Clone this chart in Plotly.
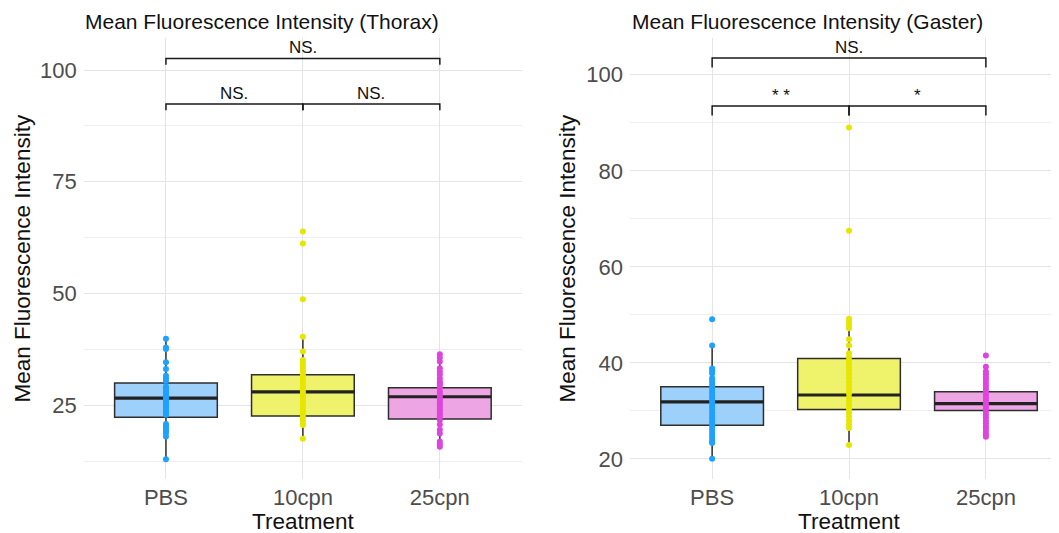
import plotly.graph_objects as go

# ---------------- data ----------------
treatments = ["PBS", "10cpn", "25cpn"]

thorax_pbs = [39.9, 37.9, 37.6, 34.6, 33.1, 31.6, 31.0, 30.4, 29.2, 28.8, 28.3, 27.9, 27.5, 27.0,
              26.6, 26.2, 25.8, 25.4, 24.9, 24.5, 24.0, 23.6, 23.2, 22.9, 20.8, 20.3, 19.8, 19.3,
              18.8, 18.0, 12.9]
thorax_10 = [63.9, 61.2, 48.7, 40.3, 37.0, 35.1, 34.5, 33.9, 33.2, 32.6, 32.0, 31.4, 30.7, 30.2,
             29.6, 29.1, 28.6, 28.0, 27.5, 27.0, 26.4, 25.9, 25.3, 24.7, 24.1, 23.5, 22.9, 22.3,
             21.6, 20.9, 20.6, 17.5]
thorax_25 = [36.4, 35.6, 34.8, 33.3, 32.5, 31.8, 31.0, 30.3, 29.9, 29.5, 28.8, 28.0, 27.5, 26.9,
             26.3, 25.8, 25.2, 24.7, 24.1, 23.6, 23.0, 22.5, 21.7, 20.7, 19.5, 18.7, 16.9, 16.3, 15.7]

gaster_pbs = [49.1, 43.6, 38.8, 38.3, 37.8, 36.8, 36.2, 35.6, 35.0, 34.4, 33.8, 33.2, 32.6, 32.0,
              31.4, 30.8, 30.2, 29.6, 29.0, 28.4, 27.8, 27.2, 26.6, 26.0, 25.4, 24.8, 24.2, 23.6,
              23.3, 20.0]
gaster_10 = [89.0, 67.5, 49.2, 48.5, 47.8, 47.2, 44.9, 43.6, 42.0, 41.2, 40.5, 39.8, 39.1, 38.4,
             37.6, 36.8, 36.0, 35.2, 34.4, 33.6, 32.8, 32.0, 31.2, 30.4, 29.6, 28.8, 28.0, 27.2,
             26.4, 22.9]
gaster_25 = [41.5, 39.2, 38.2, 37.6, 37.0, 36.4, 35.8, 35.2, 34.6, 34.0, 33.4, 32.8, 32.2, 31.6,
             31.0, 30.4, 29.8, 29.2, 28.6, 28.0, 27.4, 26.8, 26.2, 25.6, 25.0, 24.6]

# box statistics (q1, median, q3, lower whisker, upper whisker) per treatment
thorax_q1 = [22.3, 22.6, 21.9]
thorax_med = [26.6, 28.0, 26.9]
thorax_q3 = [30.0, 31.8, 28.9]
thorax_lo = [12.9, 17.5, 15.7]
thorax_hi = [39.9, 40.3, 36.4]

gaster_q1 = [27.0, 30.3, 30.05]
gaster_med = [31.85, 33.3, 31.5]
gaster_q3 = [35.0, 40.9, 34.0]
gaster_lo = [20.0, 22.9, 24.6]
gaster_hi = [43.6, 49.2, 39.2]

# significance brackets: (from, to, y, label)
thorax_sig = [(0, 1, 92.4, "NS."), (1, 2, 92.4, "NS."), (0, 2, 102.6, "NS.")]
gaster_sig = [(0, 1, 93.5, "* *"), (1, 2, 93.5, "*"), (0, 2, 103.5, "NS.")]
thorax_tip = 1.4
gaster_tip = 2.0

# ---------------- style ----------------
point_colors = ["#1ea1ff", "#e6e600", "#de45dc"]
fill_colors = ["#9dd0fb", "#eef36b", "#eea5e4"]
BOX_W = 0.75
OFF = 8                       # page body margin
W, H = 1059 - OFF, 533 - OFF  # figure size so it fits the window


def PX(px):
    return (px - OFF) / W


def PY(py):
    return 1 - (py - OFF) / H


fig = go.Figure()

panels = [
    dict(xa="x", ya="y", pts=[thorax_pbs, thorax_10, thorax_25], q1=thorax_q1, med=thorax_med,
         q3=thorax_q3, lo=thorax_lo, hi=thorax_hi, sig=thorax_sig, tip=thorax_tip),
    dict(xa="x2", ya="y2", pts=[gaster_pbs, gaster_10, gaster_25], q1=gaster_q1, med=gaster_med,
         q3=gaster_q3, lo=gaster_lo, hi=gaster_hi, sig=gaster_sig, tip=gaster_tip),
]

for p in panels:
    for i, name in enumerate(treatments):
        fig.add_trace(go.Box(
            x=[i], q1=[p["q1"][i]], median=[p["med"][i]], q3=[p["q3"][i]],
            lowerfence=[p["lo"][i]], upperfence=[p["hi"][i]],
            width=BOX_W, whiskerwidth=0, boxpoints=False,
            fillcolor=fill_colors[i], line=dict(color="#2e2e2e", width=1.5),
            xaxis=p["xa"], yaxis=p["ya"], showlegend=False, hoverinfo="skip"))
        fig.add_trace(go.Scatter(
            x=[i - BOX_W / 2, i + BOX_W / 2], y=[p["med"][i], p["med"][i]],
            mode="lines", line=dict(color="#222222", width=3.2),
            xaxis=p["xa"], yaxis=p["ya"], showlegend=False, hoverinfo="skip"))
        fig.add_trace(go.Scatter(
            x=[i] * len(p["pts"][i]), y=p["pts"][i], mode="markers",
            marker=dict(color=point_colors[i], size=6),
            xaxis=p["xa"], yaxis=p["ya"], showlegend=False, hoverinfo="skip"))
    for (a, b, yv, lab) in p["sig"]:
        fig.add_trace(go.Scatter(
            x=[a, a, b, b], y=[yv - p["tip"], yv, yv, yv - p["tip"]], mode="lines",
            line=dict(color="#1a1a1a", width=1.5),
            xaxis=p["xa"], yaxis=p["ya"], showlegend=False, hoverinfo="skip"))
        fig.add_annotation(x=(a + b) / 2, y=yv, xref=p["xa"], yref=p["ya"], text=lab,
                           showarrow=False, yanchor="bottom", yshift=-1,
                           font=dict(size=17, color="#111111"))

font_family = "Liberation Sans, Arial, sans-serif"
grid_major = "#e4e4e4"
grid_minor = "#efefef"

xcommon = dict(tickvals=[0, 1, 2], ticktext=treatments, showgrid=True, gridcolor=grid_major,
               gridwidth=1.2, zeroline=False, showline=False, ticks="",
               tickfont=dict(size=22, color="#4d4d4d"), ticklabelstandoff=3)
ycommon = dict(showgrid=True, gridcolor=grid_major, gridwidth=1.2, zeroline=False,
               showline=False, ticks="", tickfont=dict(size=22, color="#4d4d4d"),
               ticklabelstandoff=6)

fig.update_layout(
    width=W, height=H, plot_bgcolor="white", paper_bgcolor="white",
    margin=dict(l=0, r=0, t=0, b=0),
    font=dict(family=font_family),
    xaxis=dict(domain=[PX(83.8), PX(522)], range=[-0.6, 2.6], **xcommon),
    yaxis=dict(domain=[PY(479), PY(38.3)], range=[8.5, 107.1], tickvals=[25, 50, 75, 100],
               minor=dict(dtick=12.5, tick0=0, showgrid=True, gridcolor=grid_minor, gridwidth=1),
               **ycommon),
    xaxis2=dict(domain=[PX(630), 1.0], range=[-0.6, 2.534], anchor="y2", **xcommon),
    yaxis2=dict(domain=[PY(479), PY(38.3)], range=[15.8, 107.6], anchor="x2",
                tickvals=[20, 40, 60, 80, 100],
                minor=dict(dtick=10, tick0=0, showgrid=True, gridcolor=grid_minor, gridwidth=1),
                **ycommon),
)

# titles and axis titles
for x0, title in [(PX(83), "Mean Fluorescence Intensity (Thorax)"),
                  (PX(630), "Mean Fluorescence Intensity (Gaster)")]:
    fig.add_annotation(x=x0, y=PY(21), xref="paper", yref="paper", text=title,
                       showarrow=False, xanchor="left", yanchor="middle",
                       font=dict(size=21, color="#111111"))
for xc in [PX((83.8 + 522) / 2), PX((630 + 1068) / 2)]:
    fig.add_annotation(x=xc, y=PY(521), xref="paper", yref="paper", text="Treatment",
                       showarrow=False, xanchor="center", yanchor="middle",
                       font=dict(size=22.5, color="#111111"))
for xc in [PX(22), PX(567)]:
    fig.add_annotation(x=xc, y=PY(258.5), xref="paper", yref="paper",
                       text="Mean Fluorescence Intensity", textangle=-90,
                       showarrow=False, xanchor="center", yanchor="middle",
                       font=dict(size=22.5, color="#111111"))

fig.write_html("out.html")
